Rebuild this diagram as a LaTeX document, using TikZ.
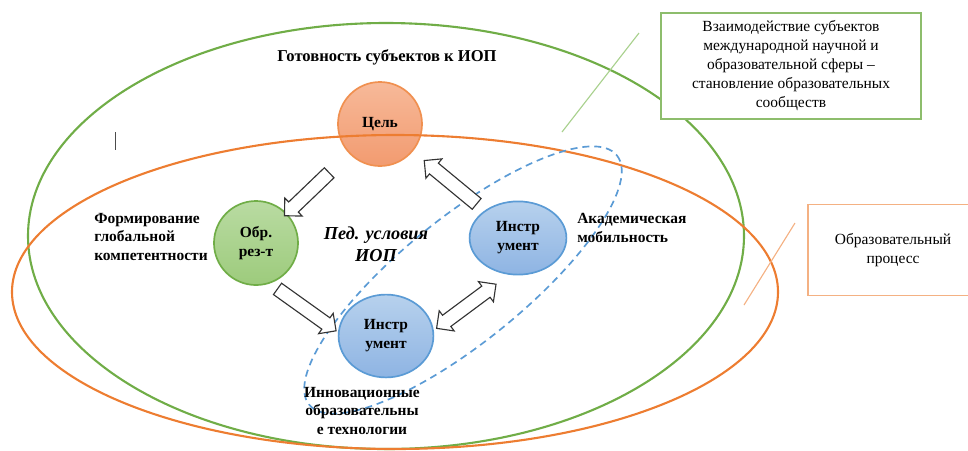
\documentclass[tikz,border=0pt]{standalone}
\usepackage{fontspec}
\setmainfont{Liberation Serif}
\usetikzlibrary{shapes.arrows,shapes.geometric}

\definecolor{ringgreen}{HTML}{70AD47}
\definecolor{ringorange}{HTML}{ED7D31}
\definecolor{ringblue}{HTML}{5B9BD5}
\definecolor{thingreen}{HTML}{A9D18E}
\definecolor{thinorange}{HTML}{F4B183}
\definecolor{celtop}{HTML}{F7B999}
\definecolor{celbot}{HTML}{F29B70}
\definecolor{obrtop}{HTML}{B9DBA2}
\definecolor{obrbot}{HTML}{9DCB7C}
\definecolor{instrtop}{HTML}{B7D1ED}
\definecolor{instrbot}{HTML}{8EB4E3}

\newcommand{\txt}{\fontsize{11}{13.5}\selectfont}

\begin{document}
\begin{tikzpicture}[x=.025cm, y=-.025cm, font=\txt]
		\tikzstyle{every node}=[align=center, inner sep=0pt]
		\tikzstyle{ball}=[circle, line width=1.2pt, minimum size=2.1cm, font=\txt\bfseries]
		\tikzstyle{egg}=[ellipse, draw=ringblue, line width=1.2pt, top color=instrtop, bottom color=instrbot, font=\txt\bfseries]
		\tikzstyle{blockarrow}=[single arrow, draw=black!80, fill=white, line width=.8pt, inner sep=.16cm, single arrow head extend=.14cm, sloped, allow upside down]
		\tikzstyle{twoway}=[double arrow, draw=black!80, fill=white, line width=.8pt, inner sep=.16cm, double arrow head extend=.14cm, sloped, allow upside down]
		\tikzstyle{caption}=[font=\txt\bfseries]
		\tikzstyle{infobox}=[draw, fill=white, line width=1pt, font=\txt]
    \def\ring{1.5pt}

		\useasboundingbox (0,0) rectangle (968,450);

		% circles
		\node[ball, draw=ringorange!85, top color=celtop, bottom color=celbot] (cel) at (380,124) {Цель};
		\node[ball, draw=ringgreen, top color=obrtop, bottom color=obrbot] (obr) at (256,243) {Обр.\\рез-т};
		\node[egg, minimum width=2.42cm, minimum height=1.83cm] (instrR) at (518,238) {Инстр\\умент};
		\node[egg, minimum width=2.37cm, minimum height=2.07cm] (instrB) at (386,336) {Инстр\\умент};

		% rings
		\draw[ringgreen, line width=\ring] (386,236) ellipse [x radius=358, y radius=213];
		\draw[ringorange, line width=\ring] (395,292) ellipse [x radius=383, y radius=157];
		\draw[ringblue, line width=1.2pt, dash pattern=on 5pt off 3.5pt, rotate around={39:(463,280)}] (463,280) ellipse [x radius=198, y radius=62];

		% arrows
		\path (cel.center) -- node[blockarrow, pos=.57, minimum height=1.55cm] {} (obr.center);
		\path (obr.center) -- node[blockarrow, pos=.48, yshift=-.62cm, minimum height=1.8cm] {} (instrB.center);
		\path (instrB.center) -- node[twoway, pos=.5, yshift=-.6cm, minimum height=1.85cm] {} (instrR.center);
		\path (instrR.center) -- node[blockarrow, pos=.47, minimum height=1.7cm] {} (cel.center);

		% captions
		\node[caption, font=\fontsize{11.8}{14}\selectfont\bfseries] (gotov) at (387,57) {Готовность субъектов к ИОП};
		\node[caption, anchor=west, align=left] (global) at (94,237) {Формирование\\глобальной\\компетентности};
		\node[caption, anchor=west, align=left] (akad) at (577,228) {Академическая\\мобильность};
		\node[caption] (innov) at (362,411) {Инновационные\\образовательны\\е технологии};
		\node[font=\fontsize{13}{15.5}\selectfont\bfseries\itshape] (ped) at (376,244) {Пед. условия\\ИОП};

		% side boxes
		\node[infobox, draw=ringgreen!80, minimum width=6.5cm, minimum height=2.65cm] (vzaim) at (791,66)
			{Взаимодействие субъектов\\международной научной и\\образовательной сферы –\\становление образовательных\\сообществ};
		\node[infobox, draw=thinorange, minimum width=4.25cm, minimum height=2.28cm] (process) at (893,250)
			{Образовательный\\процесс};

		\coordinate (gA) at (562,132);
		\coordinate (gB) at (639,33);
		\draw[thingreen, line width=.8pt] (gA) -- (gB);
		\coordinate (oA) at (744,305);
		\coordinate (oB) at (795,223);
		\draw[thinorange, line width=.8pt] (oA) -- (oB);
		\coordinate (bar) at (115,132);
		\draw[black!70, line width=.6pt] (bar) -- ++(0,18);
	\end{tikzpicture}
\end{document}
